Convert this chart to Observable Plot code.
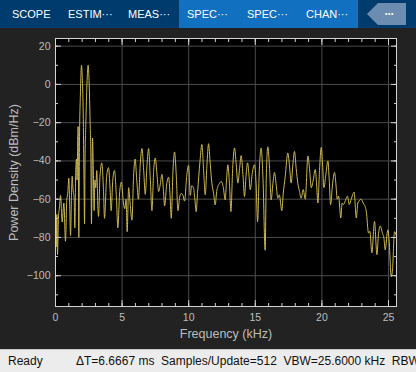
<!DOCTYPE html>
<html><head><meta charset="utf-8">
<script src="https://cdn.jsdelivr.net/npm/d3@7"></script>
<script src="https://cdn.jsdelivr.net/npm/@observablehq/plot@0.6"></script>
<style>
html,body{margin:0;padding:0;background:#222222;width:416px;height:372px;overflow:hidden;font-family:"Liberation Sans",Arial,sans-serif;}
#tabs{position:absolute;left:0;top:0;width:416px;height:28px;background:#003b6e;}
#sel{position:absolute;left:179px;top:0;width:179px;height:28px;background:#1170bf;}
.tab{position:absolute;top:0;height:28px;line-height:29px;color:#ffffff;font-size:11px;white-space:pre;}
#more{position:absolute;left:367px;top:3px;width:39px;height:22px;background:#6d8db0;clip-path:polygon(0 50%,11px 0,100% 0,100% 100%,11px 100%);}
#more span{position:absolute;left:18px;top:0;line-height:21px;color:#fff;font-size:7px;letter-spacing:0.5px;}
#chart{position:absolute;left:0;top:28px;}
#status{position:absolute;left:0;top:349px;width:416px;height:23px;background:#ececec;border-top:1px solid #c9c9c9;box-sizing:border-box;color:#111;font-size:12px;line-height:22px;white-space:pre;overflow:hidden;}
#status span{position:absolute;top:0;}
</style></head>
<body>
<div id="tabs">
  <div id="sel"></div>
  <div class="tab" style="left:12px">SCOPE</div>
  <div class="tab" style="left:68px">ESTIM···</div>
  <div class="tab" style="left:128px">MEAS···</div>
  <div class="tab" style="left:187px">SPEC···</div>
  <div class="tab" style="left:247px">SPEC···</div>
  <div class="tab" style="left:306px">CHAN···</div>
  <div id="more"><span>•••</span></div>
</div>
<div id="chart"></div>
<div id="status"><span style="left:8px">Ready</span><span style="left:76px">ΔT=6.6667 ms  Samples/Update=512  VBW=25.6000 kHz  RBW</span></div>
<script>
const freqKHz = [0.00,0.05,0.10,0.15,0.22,0.30,0.38,0.50,0.63,0.75,0.85,0.92,1.00,1.07,1.13,1.20,1.25,1.32,1.40,1.45,1.52,1.58,1.62,1.66,1.70,1.75,1.80,1.87,1.95,2.02,2.08,2.14,2.18,2.22,2.28,2.36,2.45,2.52,2.60,2.66,2.70,2.78,2.84,2.90,2.96,3.02,3.10,3.18,3.23,3.34,3.48,3.60,3.68,3.84,3.98,4.10,4.18,4.30,4.43,4.58,4.68,4.82,4.95,5.10,5.20,5.30,5.38,5.49,5.60,5.74,5.86,5.98,6.10,6.23,6.36,6.49,6.62,6.74,6.87,6.99,7.12,7.24,7.37,7.49,7.62,7.74,7.87,7.99,8.10,8.19,8.35,8.49,8.60,8.69,8.82,8.94,9.07,9.19,9.32,9.44,9.57,9.69,9.85,9.99,10.12,10.22,10.36,10.46,10.56,10.66,10.85,10.99,11.12,11.24,11.37,11.49,11.62,11.74,11.87,11.99,12.10,12.19,12.30,12.44,12.60,12.74,12.84,12.94,13.06,13.17,13.30,13.44,13.57,13.69,13.82,13.94,14.07,14.19,14.30,14.42,14.52,14.62,14.78,14.94,15.06,15.17,15.30,15.44,15.58,15.74,15.82,15.94,16.07,16.19,16.32,16.44,16.56,16.69,16.80,16.99,17.10,17.25,17.44,17.56,17.69,17.82,17.94,18.07,18.19,18.32,18.44,18.60,18.75,18.95,19.07,19.20,19.35,19.50,19.60,19.70,19.82,19.95,20.05,20.15,20.30,20.45,20.55,20.65,20.80,20.95,21.05,21.15,21.25,21.42,21.52,21.62,21.80,21.92,22.05,22.20,22.42,22.58,22.70,22.95,23.10,23.25,23.33,23.50,23.60,23.75,23.95,24.13,24.25,24.38,24.55,24.66,24.75,24.95,25.05,25.20,25.30,25.45,25.58];
const powerDb = [-62,-85,-68,-89,-70,-64,-58,-72,-62,-82,-60,-57,-49,-65,-79,-58,-48,-55,-60,-75,-45,-39,-50,-33,-22,-80,-30,-5,10,2,-15,-50,-73,-38,-20,0,10,2,-20,-40,-73,-28,-45,-66,-50,-54,-45,-64,-69,-48,-41,-55,-70,-48,-43.5,-55,-66,-50,-45,-60,-75,-56,-51,-62,-65,-60,-77,-54,-62,-71,-48,-39,-50,-60,-42,-33.5,-45,-57.5,-42,-33.5,-50,-66,-45,-38.5,-47,-56,-52,-47,-55,-63.5,-52,-48.5,-58,-70,-45,-35.3,-48,-66,-59,-57,-58,-61,-48,-42.3,-58,-53,-54,-60,-66.5,-57,-40,-31.4,-45,-57.7,-42,-31,-42,-51.6,-57,-63,-56,-53.3,-52,-50.7,-54,-60.4,-50,-42,-52,-66.5,-44,-33.2,-42,-51.6,-44,-37.2,-47,-58.6,-48,-41,-47,-55,-46,-42,-52,-71.8,-45,-33.2,-50,-86.7,-50,-32.6,-44,-60.4,-52,-46,-52,-59.5,-57.7,-66,-56.8,-48,-35.8,-42,-51.6,-42,-35,-44,-51.6,-56,-59.5,-55,-60,-37.4,-44,-54,-50,-44.4,-52,-62,-45,-33,-42,-54,-47,-40,-50,-62.8,-52,-46,-52,-60,-58.4,-69.8,-62,-62.8,-60,-58.4,-62.8,-60,-56.3,-69.8,-62,-60,-62,-64,-66.3,-77.7,-76.8,-88,-71.6,-89,-78,-74,-78,-80.5,-86.5,-76,-82,-100.5,-97,-77,-79];
const xTickLabels = [0,5,10,15,20,25];
const xMinorTicks = d3.range(0,26,1);
const yTickLabels = [20,0,-20,-40,-60,-80,-100];
const yMinorTicks = d3.range(-110,30,10);

const data = freqKHz.map((f,i)=>({f, p: powerDb[i]}));
const tickColor = "#cfcfcf";
const textColor = "#bdbdbd";
const gridColor = "#4b4b4b";

const chart = Plot.plot({
  width: 416, height: 321,
  marginTop: 10, marginBottom: 43, marginLeft: 55, marginRight: 20,
  style: {background: "transparent", color: textColor, fontFamily: "'Liberation Sans', Arial, sans-serif", fontSize: "10.5px"},
  x: {domain: [0, 25.6]},
  y: {domain: [-116.1, 24]},
  marks: [
    Plot.frame({fill: "#000000", stroke: "none"}),
    Plot.gridX(xTickLabels, {stroke: gridColor, strokeOpacity: 1}),
    Plot.gridY(yTickLabels, {stroke: gridColor, strokeOpacity: 1}),
    Plot.line(data, {x: "f", y: "p", stroke: "#cdb850", strokeWidth: 1, curve: "monotone-x"}),
    Plot.axisX(xTickLabels, {anchor: "bottom", tickSize: 0, tickPadding: 7, fill: textColor, label: "Frequency (kHz)", labelAnchor: "center", labelOffset: 31, labelArrow: "none"}),
    Plot.axisY(yTickLabels, {anchor: "left", tickSize: 0, tickPadding: 5, fill: textColor, label: "Power Density (dBm/Hz)", labelAnchor: "center", labelOffset: 46, labelArrow: "none"}),
    Plot.axisX(xMinorTicks, {anchor: "bottom", tickSize: -3, fill: "none", stroke: tickColor, label: null}),
    Plot.axisX(xMinorTicks, {anchor: "top", tickSize: -3, fill: "none", stroke: tickColor, label: null}),
    Plot.axisX(xTickLabels, {anchor: "bottom", tickSize: -6, fill: "none", stroke: tickColor, label: null}),
    Plot.axisX(xTickLabels, {anchor: "top", tickSize: -6, fill: "none", stroke: tickColor, label: null}),
    Plot.axisY(yMinorTicks, {anchor: "left", tickSize: -3, fill: "none", stroke: tickColor, label: null}),
    Plot.axisY(yMinorTicks, {anchor: "right", tickSize: -3, fill: "none", stroke: tickColor, label: null}),
    Plot.axisY(yTickLabels, {anchor: "left", tickSize: -6, fill: "none", stroke: tickColor, label: null}),
    Plot.axisY(yTickLabels, {anchor: "right", tickSize: -6, fill: "none", stroke: tickColor, label: null}),
    Plot.frame({stroke: "#d4d4d4", strokeWidth: 1})
  ]
});
chart.querySelectorAll("g[aria-label$='axis label'] text").forEach(t => t.style.fontSize = "12.5px");
document.getElementById("chart").appendChild(chart);
</script>
</body></html>
